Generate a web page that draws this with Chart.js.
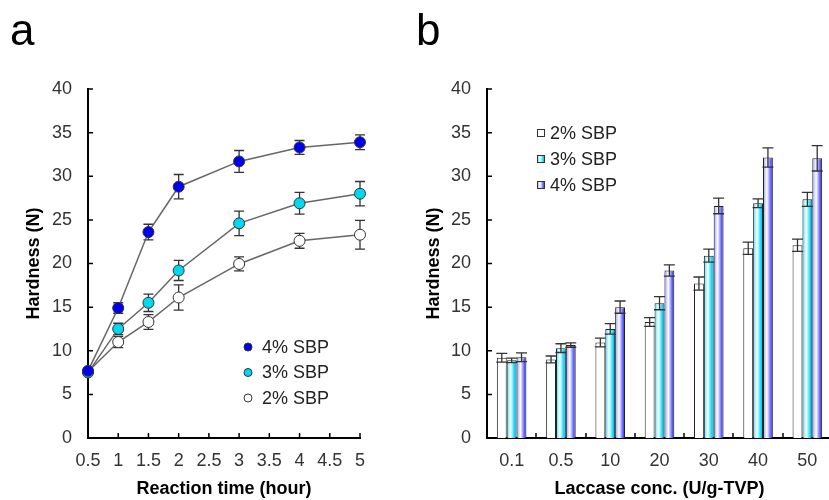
<!DOCTYPE html>
<html>
<head>
<meta charset="utf-8">
<script src="https://cdn.jsdelivr.net/npm/chart.js@4.4.1/dist/chart.umd.min.js"></script>
<style>
  html, body { margin: 0; padding: 0; background: #fff; width: 829px; height: 500px; overflow: hidden; }
  .panel { position: absolute; top: 0; height: 500px; }
  #wrapA { left: 0; width: 410px; }
  #wrapB { left: 410px; width: 440px; }
  .tag { position: absolute; font-family: "Liberation Sans", Arial, sans-serif; font-size: 44px; line-height: 1; color: #000; }
</style>
</head>
<body>
<div class="panel" id="wrapA"><canvas id="chartA" width="410" height="500"></canvas></div>
<div class="panel" id="wrapB"><canvas id="chartB" width="440" height="500"></canvas></div>
<div class="tag" style="left:10px; top:8px;">a</div>
<div class="tag" style="left:416px; top:8px;">b</div>

<script>
// ===================== Data: panel a (reaction time) =====================
const reactionTime = [0.5, 1, 1.5, 2, 3, 4, 5];
const sbp4Time = [7.7, 14.9, 23.6, 28.8, 31.7, 33.3, 33.9];
const sbp4TimeErr = [0.3, 0.6, 0.9, 1.4, 1.25, 0.8, 0.85];
const sbp3Time = [7.5, 12.5, 15.5, 19.2, 24.6, 26.9, 28.0];
const sbp3TimeErr = [0.3, 0.65, 1.0, 1.15, 1.4, 1.25, 1.4];
const sbp2Time = [7.6, 11.0, 13.3, 16.1, 19.95, 22.6, 23.3];
const sbp2TimeErr = [0.3, 0.65, 0.85, 1.45, 0.8, 0.85, 1.65];

// ===================== Data: panel b (laccase conc.) =====================
const laccaseConc = ["0.1", "0.5", "10", "20", "30", "40", "50"];
const sbp2Conc = [9.2, 9.0, 10.95, 13.3, 17.7, 21.75, 22.1];
const sbp2ConcErr = [0.5, 0.4, 0.5, 0.5, 0.75, 0.7, 0.7];
const sbp3Conc = [8.9, 10.3, 12.5, 15.45, 20.9, 26.9, 27.35];
const sbp3ConcErr = [0.25, 0.5, 0.6, 0.75, 0.75, 0.5, 0.8];
const sbp4Conc = [9.25, 10.65, 15.0, 19.2, 26.6, 32.15, 32.05];
const sbp4ConcErr = [0.5, 0.25, 0.7, 0.65, 0.9, 1.1, 1.45];

const FONT = '"Liberation Sans", Arial, sans-serif';
Chart.defaults.font.family = FONT;
Chart.defaults.color = "#333";

// ===================== Plugins =====================
function drawErrors(chart, opts) {
  const ctx = chart.ctx;
  const ys = chart.scales.y;
  ctx.save();
  ctx.strokeStyle = "#333";
  ctx.lineWidth = 1.3;
  chart.data.datasets.forEach((ds, di) => {
    const meta = chart.getDatasetMeta(di);
    meta.data.forEach((el, i) => {
      const raw = ds.data[i];
      const v = typeof raw === "object" ? raw.y : raw;
      const e = ds.errors[i];
      const top = ys.getPixelForValue(v + e);
      const bot = ys.getPixelForValue(v - e);
      const x = el.x;
      ctx.beginPath();
      ctx.moveTo(x, top); ctx.lineTo(x, bot);
      ctx.moveTo(x - opts.cap, top); ctx.lineTo(x + opts.cap, top);
      ctx.moveTo(x - opts.cap, bot); ctx.lineTo(x + opts.cap, bot);
      ctx.stroke();
    });
  });
  ctx.restore();
}

const errorBars = {
  id: "errorBars",
  beforeDatasetsDraw(chart, args, opts) { if (opts.under) drawErrors(chart, opts); },
  afterDatasetsDraw(chart, args, opts) { if (!opts.under) drawErrors(chart, opts); }
};

// tick marks pointing into the plot
const innerTicks = {
  id: "innerTicks",
  afterDraw(chart, args, opts) {
    const { ctx, chartArea, scales } = chart;
    ctx.save();
    ctx.strokeStyle = "#000";
    ctx.lineWidth = 1.5;
    ctx.beginPath();
    scales.y.ticks.forEach(t => {
      const y = scales.y.getPixelForValue(t.value);
      ctx.moveTo(chartArea.left, y); ctx.lineTo(chartArea.left + 5, y);
    });
    if (opts.between) {
      const n = scales.x.ticks.length;
      const step = (chartArea.right - chartArea.left) / n;
      for (let i = 1; i <= n; i++) {
        const x = Math.round(chartArea.left + i * step);
        ctx.moveTo(x, chartArea.bottom); ctx.lineTo(x, chartArea.bottom - 5);
      }
    } else {
      scales.x.ticks.forEach(t => {
        const x = scales.x.getPixelForValue(t.value);
        ctx.moveTo(x, chartArea.bottom); ctx.lineTo(x, chartArea.bottom - 5);
      });
    }
    ctx.stroke();
    ctx.restore();
  }
};

// small legend placed inside the plot
const insideLegend = {
  id: "insideLegend",
  afterDraw(chart, args, opts) {
    const ctx = chart.ctx;
    ctx.save();
    ctx.font = "18px " + FONT;
    ctx.textBaseline = "middle";
    ctx.textAlign = "left";
    opts.order.forEach((di, k) => {
      const ds = chart.data.datasets[di];
      const y = opts.y + k * opts.gap;
      ctx.lineWidth = 1;
      ctx.strokeStyle = "#333";
      if (opts.shape === "circle") {
        ctx.beginPath();
        ctx.arc(opts.x, y, 4, 0, Math.PI * 2);
        ctx.fillStyle = ds.pointBackgroundColor;
        ctx.fill();
        ctx.stroke();
      } else {
        const s = 8;
        const g = ctx.createLinearGradient(opts.x - s / 2, 0, opts.x + s / 2, 0);
        ds.stops.forEach(st => g.addColorStop(st[0], st[1]));
        ctx.fillStyle = g;
        ctx.fillRect(opts.x - s / 2, y - s / 2, s, s);
        ctx.strokeRect(opts.x - s / 2 + 0.5, y - s / 2 + 0.5, s - 1, s - 1);
      }
      ctx.fillStyle = "#222";
      ctx.fillText(ds.label, opts.textX, y + 1);
    });
    ctx.restore();
  }
};

// ===================== Panel a: line chart =====================
function toPoints(ys) { return reactionTime.map((x, i) => ({ x: x, y: ys[i] })); }

function lineSet(label, values, errs, fill) {
  return {
    label: label,
    data: toPoints(values),
    errors: errs,
    borderColor: "#666",
    borderWidth: 1.5,
    pointBackgroundColor: fill,
    pointBorderColor: "#333",
    pointBorderWidth: 1,
    pointRadius: 5.5,
    tension: 0,
    clip: false
  };
}

const axisTitle = { size: 18, weight: "bold", family: FONT };
const tickFont = { size: 18, family: FONT };

new Chart(document.getElementById("chartA"), {
  type: "line",
  data: {
    datasets: [
      lineSet("4% SBP", sbp4Time, sbp4TimeErr, "#0000f0"),
      lineSet("3% SBP", sbp3Time, sbp3TimeErr, "#00d8f0"),
      lineSet("2% SBP", sbp2Time, sbp2TimeErr, "#ffffff")
    ]
  },
  options: {
    responsive: false,
    animation: false,
    layout: { padding: { left: 23, top: 89, right: 50, bottom: 0 } },
    plugins: {
      legend: { display: false },
      tooltip: { enabled: false },
      errorBars: { under: true, cap: 5 },
      innerTicks: { between: false },
      insideLegend: { shape: "circle", order: [0, 1, 2], x: 248, textX: 262, y: 347, gap: 25.5 }
    },
    scales: {
      x: {
        type: "linear", min: 0.5, max: 5,
        ticks: { stepSize: 0.5, autoSkip: false, maxRotation: 0, padding: 12, font: tickFont, color: "#333",
                 callback: v => String(v) },
        grid: { display: false, drawTicks: false },
        border: { color: "#000", width: 2 },
        title: { display: true, text: "Reaction time (hour)", font: axisTitle, color: "#000", padding: 0 },
        afterFit: s => { s.height = 62; }
      },
      y: {
        min: 0, max: 40,
        ticks: { stepSize: 5, padding: 16, font: tickFont, color: "#333" },
        grid: { display: false, drawTicks: false },
        border: { color: "#000", width: 2 },
        title: { display: true, text: "Hardness (N)", font: axisTitle, color: "#000", padding: 0 },
        afterFit: s => { s.width = 65; }
      }
    }
  },
  plugins: [errorBars, innerTicks, insideLegend]
});

// ===================== Panel b: bar chart =====================
function barFill(stops) {
  return c => {
    const el = c.element;
    if (!el || !isFinite(el.x) || !el.width) return stops[0][1];
    const g = c.chart.ctx.createLinearGradient(el.x - el.width / 2, 0, el.x + el.width / 2, 0);
    stops.forEach(st => g.addColorStop(st[0], st[1]));
    return g;
  };
}

const stops2 = [[0, "#ffffff"], [1, "#ffffff"]];
const stops3 = [[0, "#40e0ff"], [0.4, "#ffffff"], [0.8, "#00d8f8"], [1, "#00b8e0"]];
const stops4 = [[0, "#9a9aff"], [0.4, "#ffffff"], [0.8, "#5a5aff"], [1, "#3030d0"]];

function barSet(label, values, errs, stops) {
  return {
    label: label,
    data: values,
    errors: errs,
    stops: stops,
    backgroundColor: barFill(stops),
    borderColor: "#222",
    borderWidth: 1,
    categoryPercentage: 0.6,
    barPercentage: 1.0
  };
}

const chartB = new Chart(document.getElementById("chartB"), {
  type: "bar",
  data: {
    labels: laccaseConc,
    datasets: [
      barSet("2% SBP", sbp2Conc, sbp2ConcErr, stops2),
      barSet("3% SBP", sbp3Conc, sbp3ConcErr, stops3),
      barSet("4% SBP", sbp4Conc, sbp4ConcErr, stops4)
    ]
  },
  options: {
    responsive: false,
    animation: false,
    layout: { padding: { left: 13, top: 89, right: 18, bottom: 0 } },
    plugins: {
      legend: { display: false },
      tooltip: { enabled: false },
      errorBars: { under: false, cap: 5.5 },
      innerTicks: { between: true },
      insideLegend: { shape: "box", order: [0, 1, 2], x: 131, textX: 140, y: 133, gap: 26 }
    },
    scales: {
      x: {
        ticks: { padding: 12, font: tickFont, color: "#333", maxRotation: 0 },
        grid: { display: false, drawTicks: false },
        border: { color: "#000", width: 2 },
        title: { display: true, text: "Laccase conc. (U/g-TVP)", font: axisTitle, color: "#000", padding: 0 },
        afterFit: s => { s.height = 62; }
      },
      y: {
        min: 0, max: 40,
        ticks: { stepSize: 5, padding: 16, font: tickFont, color: "#333" },
        grid: { display: false, drawTicks: false },
        border: { color: "#000", width: 2 },
        title: { display: true, text: "Hardness (N)", font: axisTitle, color: "#000", padding: 0 },
        afterFit: s => { s.width = 64; }
      }
    }
  },
  plugins: [errorBars, innerTicks, insideLegend]
});
// second pass so the bar gradients can use the laid-out bar positions
chartB.update();
</script>
</body>
</html>
